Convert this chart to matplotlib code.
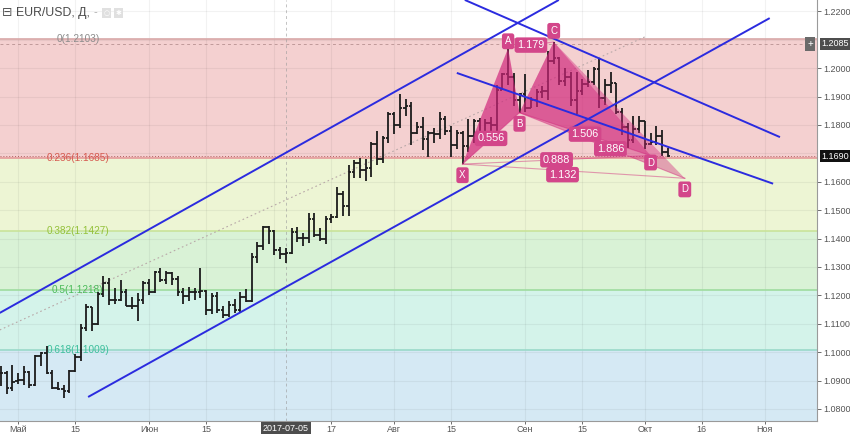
import matplotlib
matplotlib.use('Agg')
import matplotlib.pyplot as plt
import numpy as np
from matplotlib.patches import Polygon, Rectangle

plt.rcParams['font.family'] = ['Liberation Sans', 'DejaVu Sans']

# ---------------- data ----------------
first_index = -3  # Apr 26, 2017 (index 0 = May 1)
opens = [1.0925,1.0925,1.0873,1.0898,1.0903,1.0930,1.0884,1.0985,1.0996,1.0927,1.0874,1.0869,1.0864,
         1.0932,1.0982,1.1085,1.1158,1.1100,1.1206,1.1243,1.1182,1.1184,1.1213,1.1164,1.1162,1.1183,
         1.1244,1.1213,1.1281,1.1254,1.1277,1.1258,1.1212,1.1196,1.1212,1.1210,1.1216,1.1150,1.1197,
         1.1148,1.1131,1.1166,1.1150,1.1195,1.1181,1.1334,1.1375,1.1440,1.1425,1.1361,1.1347,1.1350,
         1.1423,1.1401,1.1401,1.1467,1.1414,1.1397,1.1470,1.1477,1.1557,1.1515,1.1633,1.1665,1.1641,
         1.1648,1.1734,1.1679,1.1753,1.1840,1.1801,1.1860,1.1868,1.1773,1.1793,1.1752,1.1771,1.1767,
         1.1822,1.1780,1.1728,1.1771,1.1724,1.1760,1.1814,1.1762,1.1808,1.1800,1.1923,1.1978,1.1969,
         1.1887,1.1908,1.1860,1.1888,1.1915,1.1920,1.2026,1.2035,1.1953,1.1967,1.1887,1.1920,1.1944,
         1.1950,1.1996,1.1895,1.1940,1.1949,1.1847,1.1791,1.1748,1.1785,1.1813,1.1733,1.1740,1.1762,
         1.1705]
highs = [1.0951,1.0933,1.0954,1.0925,1.0951,1.0933,1.0991,1.1000,1.1023,1.0936,1.0894,1.0884,1.0937,
         1.0992,1.1100,1.1171,1.1160,1.1212,1.1268,1.1260,1.1226,1.1254,1.1222,1.1194,1.1207,1.1251,
         1.1258,1.1285,1.1296,1.1285,1.1282,1.1268,1.1226,1.1230,1.1227,1.1296,1.1220,1.1209,1.1211,
         1.1161,1.1180,1.1187,1.1210,1.1222,1.1349,1.1388,1.1445,1.1445,1.1430,1.1371,1.1368,1.1438,
         1.1440,1.1418,1.1490,1.1490,1.1437,1.1479,1.1488,1.1583,1.1568,1.1658,1.1677,1.1684,1.1679,
         1.1740,1.1777,1.1761,1.1846,1.1845,1.1910,1.1892,1.1880,1.1810,1.1829,1.1780,1.1790,1.1846,
         1.1832,1.1796,1.1781,1.1778,1.1822,1.1822,1.1826,1.1822,1.1829,1.1940,1.1984,1.2070,1.1983,
         1.1912,1.1980,1.1898,1.1925,1.1937,1.2060,1.2092,1.2038,1.2000,1.1986,1.1987,1.1963,1.1995,
         1.2004,1.2034,1.1960,1.1985,1.1949,1.1861,1.1808,1.1833,1.1831,1.1815,1.1771,1.1795,1.1782,
         1.1718]
lows = [1.0879,1.0851,1.0862,1.0888,1.0883,1.0875,1.0879,1.0951,1.0922,1.0870,1.0865,1.0838,1.0857,
        1.0930,1.0970,1.1076,1.1075,1.1094,1.1195,1.1165,1.1171,1.1180,1.1163,1.1151,1.1109,1.1169,
        1.1201,1.1208,1.1247,1.1239,1.1235,1.1196,1.1168,1.1180,1.1183,1.1189,1.1131,1.1134,1.1138,
        1.1119,1.1124,1.1138,1.1142,1.1175,1.1177,1.1315,1.1360,1.1382,1.1342,1.1327,1.1312,1.1345,
        1.1388,1.1373,1.1385,1.1407,1.1391,1.1380,1.1455,1.1473,1.1479,1.1479,1.1612,1.1613,1.1604,
        1.1617,1.1660,1.1666,1.1735,1.1767,1.1790,1.1832,1.1730,1.1767,1.1712,1.1688,1.1735,1.1751,
        1.1766,1.1688,1.1714,1.1662,1.1704,1.1737,1.1751,1.1750,1.1778,1.1772,1.1922,1.1941,1.1865,
        1.1843,1.1846,1.1858,1.1862,1.1893,1.1887,1.2015,1.1940,1.1938,1.1868,1.1838,1.1904,1.1934,
        1.1941,1.1861,1.1870,1.1911,1.1839,1.1765,1.1717,1.1735,1.1773,1.1715,1.1730,1.1728,1.1692,
        1.1687]
closes = [1.0925,1.0873,1.0895,1.0903,1.0930,1.0884,1.0985,1.0998,1.0927,1.0874,1.0869,1.0864,1.0932,
          1.0982,1.1085,1.1158,1.1100,1.1206,1.1243,1.1182,1.1184,1.1213,1.1164,1.1162,1.1183,1.1244,
          1.1213,1.1281,1.1254,1.1277,1.1258,1.1212,1.1196,1.1212,1.1210,1.1216,1.1150,1.1197,1.1148,
          1.1131,1.1166,1.1150,1.1195,1.1181,1.1334,1.1375,1.1440,1.1425,1.1361,1.1347,1.1350,1.1423,
          1.1401,1.1401,1.1467,1.1414,1.1397,1.1470,1.1477,1.1557,1.1515,1.1633,1.1665,1.1641,1.1648,
          1.1734,1.1679,1.1753,1.1840,1.1801,1.1860,1.1868,1.1773,1.1793,1.1752,1.1771,1.1767,1.1822,
          1.1780,1.1728,1.1771,1.1724,1.1760,1.1814,1.1762,1.1808,1.1800,1.1923,1.1978,1.1969,1.1887,
          1.1908,1.1860,1.1888,1.1915,1.1920,1.2026,1.2035,1.1953,1.1967,1.1887,1.1920,1.1944,1.1950,
          1.1996,1.1895,1.1940,1.1949,1.1847,1.1791,1.1748,1.1785,1.1813,1.1733,1.1740,1.1762,1.1705,
          1.1690]

fib_ratios = ["0", "0.236", "0.382", "0.5", "0.618", "0.786"]
fib_prices = [1.2103, 1.1685, 1.1427, 1.1218, 1.1009, 1.0711]
fib_band_colors = ["#f4d0d0", "#edf5d4", "#d9f2d6", "#d4f3ea", "#d5e9f4"]
fib_line_colors = ["#d8a8a8", "#e59a9a", "#c9e39a", "#9fdc9f", "#9ad9c9", "#9cc8e0"]
fib_text_colors = ["#8c8c8c", "#d65a50", "#93c13a", "#4cbb5a", "#3cbf9c", "#5aa0d0"]

# channel / trend lines (bar index, price)
line_upper_x = [-3.2, 94.9];   line_upper_y = [1.1138, 1.2240]
line_lower_x = [12.3, 131.9];  line_lower_y = [1.0842, 1.2176]
desc_upper_x = [78.4, 133.7];  desc_upper_y = [1.2240, 1.1757]
desc_lower_x = [77.0, 132.5];  desc_lower_y = [1.1983, 1.1593]
dotted_x = [-3.2, 110.0];      dotted_y = [1.1078, 1.2110]

# harmonic pattern points
pat_names = ["X", "A", "B", "C", "D", "D"]
pat_x = [78, 86, 88, 94, 111, 117]
pat_y = [1.1662, 1.2070, 1.1843, 1.2092, 1.1692, 1.1612]
ratio_labels = ["0.556", "1.179", "1.506", "1.886", "0.888", "1.132"]
ratio_pos = [0.5, 0.5, 0.5, 0.55, 0.5, 0.45]
ratio_dy = [0, 0, 0, 0, 0, -3]

tick_pos = [0, 10, 23, 33, 55, 66, 76, 89, 99, 110, 120, 131]
tick_lbl = ["Май", "15", "Июн", "15", "17", "Авг", "15", "Сен", "15", "Окт", "16", "Ноя"]
cross_idx = 47
cross_date = "2017-07-05"
cross_price = 1.2085
last_price = closes[-1]
price_ticks = [1.08, 1.09, 1.10, 1.11, 1.12, 1.13, 1.14, 1.15, 1.16, 1.18, 1.19, 1.20, 1.22]

# ---------------- figure ----------------
W, H = 850, 434
fig = plt.figure(figsize=(W / 100, H / 100), dpi=100)
fig.patch.set_facecolor("white")
ax = fig.add_axes([0, 13 / H, 817 / W, 421 / H])
ax.set_facecolor("white")
ax.set_xlim(-3.16, 140.2)
ax.set_ylim(1.07574, 1.22398)

# grid
for p in price_ticks + [1.17, 1.21]:
    ax.axhline(p, color="#000000", alpha=0.05, lw=0.8, zorder=0.5)
for t in tick_pos + [45]:
    ax.axvline(t, color="#000000", alpha=0.05, lw=0.8, zorder=0.5)

# fib bands
for i in range(len(fib_prices) - 1):
    ax.axhspan(fib_prices[i + 1], fib_prices[i], color=fib_band_colors[i], lw=0, zorder=0.3)
for i, p in enumerate(fib_prices):
    ax.axhline(p, color=fib_line_colors[i], lw=1.2, zorder=0.6)
for i in range(5):
    ax.text(10.5, fib_prices[i], f"{fib_ratios[i]}({fib_prices[i]:.4f})", color=fib_text_colors[i],
            fontsize=7.2, ha="center", va="center", zorder=3)

# dotted trend line
ax.plot(dotted_x, dotted_y, color="#b8a8a8", lw=0.8, ls=(0, (1.5, 2.5)), zorder=1)

# crosshair
ax.axhline(cross_price, color="#c09a9a", lw=0.7, ls=(0, (3, 3)), zorder=1)
ax.axvline(cross_idx, color="#9a9a9a", lw=0.7, ls=(0, (3, 3)), alpha=0.6, zorder=1)
ax.axhline(last_price, color="#b06060", lw=0.7, ls=(0, (1, 2)), zorder=1)

# OHLC bars
idx = np.arange(first_index, first_index + len(opens))
ax.vlines(idx, lows, highs, color="#1c1c1c", lw=1.3, zorder=4)
ax.hlines(opens, idx - 0.45, idx, color="#1c1c1c", lw=1.3, zorder=4)
ax.hlines(closes, idx, idx + 0.45, color="#1c1c1c", lw=1.3, zorder=4)

# pattern
pc = "#d0237a"
P = list(zip(pat_x, pat_y))
X, A, B, C, D1, D2 = P
ax.add_patch(Polygon([X, A, B], closed=True, fc=pc, alpha=0.68, lw=0, zorder=5))
ax.add_patch(Polygon([B, C, D1], closed=True, fc=pc, alpha=0.45, lw=0, zorder=5))
ax.add_patch(Polygon([B, C, D2], closed=True, fc=pc, alpha=0.40, lw=0, zorder=5))
seg_pairs = [(X, B), (A, C), (B, D1), (B, D2), (X, D1), (X, D2)]
for (p1, p2) in seg_pairs:
    ax.plot([p1[0], p2[0]], [p1[1], p2[1]], color=pc, lw=0.8, alpha=0.45, zorder=5)

lbl_fc = "#d3468a"
for (p1, p2), t, f, dy in zip(seg_pairs, ratio_labels, ratio_pos, ratio_dy):
    ax.annotate(t, (p1[0] + (p2[0] - p1[0]) * f, p1[1] + (p2[1] - p1[1]) * f),
                xytext=(0, dy), textcoords="offset points", color="white",
                fontsize=7.8, ha="center", va="center", zorder=7,
                bbox=dict(boxstyle="round,pad=0.25,rounding_size=0.25", fc=lbl_fc, ec="none"))
offs = [-8, 5, -8, 8, -5, -8]
for (px, py), n, o in zip(P, pat_names, offs):
    ax.annotate(n, (px, py), xytext=(0, o), textcoords="offset points", color="white", fontsize=7,
                ha="center", va="center", zorder=7,
                bbox=dict(boxstyle="round,pad=0.3,rounding_size=0.25", fc=lbl_fc, ec="none"))

# blue lines
bc = "#2b2bdf"
for xs, ys in [(line_upper_x, line_upper_y), (line_lower_x, line_lower_y),
               (desc_upper_x, desc_upper_y), (desc_lower_x, desc_lower_y)]:
    ax.plot(xs, ys, color=bc, lw=1.4, zorder=6, solid_capstyle="butt")

# axes styling
for s in ["top", "left"]:
    ax.spines[s].set_visible(False)
ax.spines["right"].set_color("#9a9a9a")
ax.spines["bottom"].set_color("#9a9a9a")
ax.yaxis.tick_right()
ax.set_yticks(price_ticks)
ax.set_yticklabels([f"{p:.4f}" for p in price_ticks])
ax.set_xticks(tick_pos)
ax.set_xticklabels(tick_lbl)
ax.tick_params(axis="y", labelsize=6.5, colors="#555555", length=3, width=0.6, pad=1.5)
ax.tick_params(axis="x", labelsize=6.5, colors="#555555", length=2, width=0.6, pad=1)

# price labels on right axis
def price_box(price, text, fc):
    ax.annotate(text, (1.0, price), xycoords=("axes fraction", "data"), xytext=(3.2, 0),
                textcoords="offset points", color="white", fontsize=6.5, ha="left", va="center",
                annotation_clip=False, zorder=10,
                bbox=dict(boxstyle="square,pad=0.2", fc=fc, ec="none"))
price_box(cross_price, f"{cross_price:.4f}", "#4d4d4d")
price_box(last_price, f"{last_price:.4f}", "#111111")
ax.annotate("+", (1.0, cross_price), xycoords=("axes fraction", "data"), xytext=(-5, 0),
            textcoords="offset points", color="white", fontsize=7, ha="center", va="center",
            annotation_clip=False, zorder=10,
            bbox=dict(boxstyle="square,pad=0.25", fc="#6a6a6a", ec="none"))
ax.annotate(cross_date, (cross_idx, 0), xycoords=("data", "axes fraction"), xytext=(0, -5.5),
            textcoords="offset points", color="white", fontsize=6.5, ha="center", va="center",
            annotation_clip=False, zorder=10,
            bbox=dict(boxstyle="square,pad=0.25", fc="#4d4d4d", ec="none"))

# header
fig.text(2 / W, 1 - 13 / H, "⊟", fontsize=9, color="#555555", va="center", ha="left",
         family=["DejaVu Sans"])
fig.text(16 / W, 1 - 13 / H, "EUR/USD, Д,", fontsize=8.8, color="#4a4a4a", va="center", ha="left")
fig.text(93 / W, 1 - 12 / H, "-", fontsize=8, color="#aaaaaa", va="center", ha="left")
fig.patches.append(Rectangle((102 / W, 1 - 18 / H), 9 / W, 10 / H, transform=fig.transFigure,
                             fc="#e0e0e0", ec="none"))
fig.patches.append(Rectangle((114 / W, 1 - 18 / H), 9 / W, 10 / H, transform=fig.transFigure,
                             fc="#e0e0e0", ec="none"))
fig.text(106.5 / W, 1 - 13 / H, "○", fontsize=5, color="white", va="center", ha="center",
         family=["DejaVu Sans"])
fig.text(118.5 / W, 1 - 13 / H, "✱", fontsize=5, color="white", va="center", ha="center",
         family=["DejaVu Sans"])

fig.savefig("out.png", dpi=100, facecolor="white")
